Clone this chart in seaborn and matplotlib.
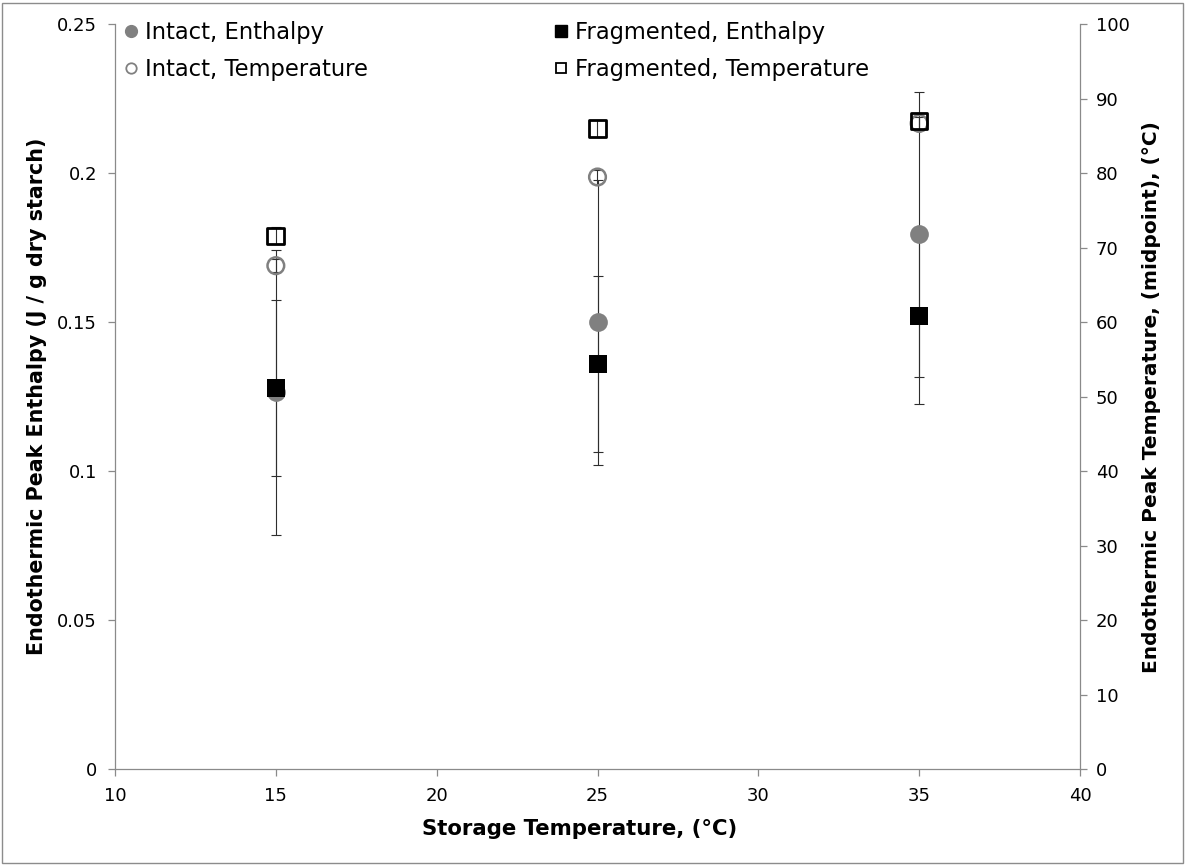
import matplotlib
matplotlib.use("Agg")
import matplotlib.pyplot as plt
from matplotlib.lines import Line2D
from matplotlib.patches import Rectangle
import numpy as np
import pandas as pd
import seaborn as sns

# Storage temperatures (°C)
storage_temp = [15, 25, 35]

# Endothermic peak enthalpy (J / g dry starch) and its error
intact_enthalpy = [0.1265, 0.150, 0.1795]
intact_enthalpy_err = [0.0478, 0.0478, 0.0478]
fragmented_enthalpy = [0.128, 0.136, 0.152]
fragmented_enthalpy_err = [0.0295, 0.0295, 0.0295]

# Endothermic peak temperature, midpoint (°C) and its error
intact_temperature = [67.6, 79.5, 86.7]
intact_temperature_err = [0.9, 0.9, 0.9]
fragmented_temperature = [71.6, 86.0, 87.0]
fragmented_temperature_err = [1.15, 1.15, 1.15]

series_labels = ["Intact, Enthalpy", "Intact, Temperature",
                 "Fragmented, Enthalpy", "Fragmented, Temperature"]
x_ticks = [10, 15, 20, 25, 30, 35, 40]
left_ticks = [0, 0.05, 0.1, 0.15, 0.2, 0.25]
left_tick_labels = ["0", "0.05", "0.1", "0.15", "0.2", "0.25"]
right_ticks = list(range(0, 101, 10))

sns.set_theme(style="white")
plt.rcParams["font.family"] = ["DejaVu Sans"]
plt.rcParams["text.color"] = "black"
plt.rcParams["axes.labelcolor"] = "black"

W, H = 1186, 865
fig = plt.figure(figsize=(W / 100, H / 100), dpi=100)
fig.patch.set_facecolor("white")

left_px, right_px, top_px, bottom_px = 115, 1080, 24.3, 769.3
ax = fig.add_axes([left_px / W, 1 - bottom_px / H,
                   (right_px - left_px) / W, (bottom_px - top_px) / H])
ax2 = ax.twinx()

GRAY = "#808080"
AXIS_GRAY = "#8a8a8a"
ERR_COLOR = "#2e2e2e"
MS = 13.5  # marker size in points

enthalpy = pd.DataFrame({
    "storage": storage_temp * 2,
    "value": intact_enthalpy + fragmented_enthalpy,
    "err": intact_enthalpy_err + fragmented_enthalpy_err,
    "series": ["Intact"] * 3 + ["Fragmented"] * 3,
})
temperature = pd.DataFrame({
    "storage": storage_temp * 2,
    "value": intact_temperature + fragmented_temperature,
    "err": intact_temperature_err + fragmented_temperature_err,
    "series": ["Intact"] * 3 + ["Fragmented"] * 3,
})

err_kw = dict(fmt="none", ecolor=ERR_COLOR, elinewidth=0.8, capsize=3.3,
              capthick=0.8, zorder=2)

# Error bars
for df, axis in ((enthalpy, ax), (temperature, ax2)):
    for name in ["Intact", "Fragmented"]:
        d = df[df["series"] == name]
        axis.errorbar(d["storage"], d["value"], yerr=d["err"], **err_kw)

# Enthalpy markers (left axis)
sns.scatterplot(data=enthalpy[enthalpy["series"] == "Intact"], x="storage",
                y="value", marker="o", s=MS ** 2, color=GRAY, edgecolor=GRAY,
                linewidth=0, legend=False, ax=ax, zorder=3)
sns.scatterplot(data=enthalpy[enthalpy["series"] == "Fragmented"], x="storage",
                y="value", marker="s", s=MS ** 2, color="black",
                edgecolor="black", linewidth=0, legend=False, ax=ax, zorder=4)

# Temperature markers (right axis)
sns.scatterplot(data=temperature[temperature["series"] == "Intact"], x="storage",
                y="value", marker="o", s=(MS - 1.5) ** 2, facecolor="none",
                edgecolor=GRAY, linewidth=1.8, legend=False, ax=ax2, zorder=3)
sns.scatterplot(data=temperature[temperature["series"] == "Fragmented"],
                x="storage", y="value", marker="s", s=(MS - 1.5) ** 2,
                facecolor="none", edgecolor="black", linewidth=2.0,
                legend=False, ax=ax2, zorder=4)

# Axes ranges and ticks
ax.set_xlim(10, 40)
ax.set_ylim(0, 0.25)
ax2.set_ylim(0, 100)
ax.set_xticks(x_ticks)
ax.set_xticklabels([str(t) for t in x_ticks])
ax.set_yticks(left_ticks)
ax.set_yticklabels(left_tick_labels)
ax2.set_yticks(right_ticks)
ax2.set_yticklabels([str(t) for t in right_ticks])

for a in (ax, ax2):
    a.grid(False)
    a.set_facecolor("none")
    a.spines["top"].set_visible(False)
    for side in ("left", "right", "bottom"):
        a.spines[side].set_color(AXIS_GRAY)
        a.spines[side].set_linewidth(0.9)
ax.spines["right"].set_visible(False)
ax2.spines["left"].set_visible(False)
ax2.spines["bottom"].set_visible(False)

ax.tick_params(axis="x", direction="out", length=5, width=0.9,
               color=AXIS_GRAY, labelsize=13, labelcolor="black", pad=8,
               bottom=True)
ax.tick_params(axis="y", direction="out", length=5, width=0.9,
               color=AXIS_GRAY, labelsize=13, labelcolor="black", pad=8,
               left=True)
ax2.tick_params(axis="y", direction="out", length=5, width=0.9,
                color=AXIS_GRAY, labelsize=13, labelcolor="black", pad=6.5,
                right=True)

# Axis titles
ax.set_xlabel("Storage Temperature, (°C)", fontsize=15.3, fontweight="bold",
              color="black")
ax.set_ylabel("Endothermic Peak Enthalpy (J / g dry starch)", fontsize=14.9,
              fontweight="bold", color="black")
ax2.set_ylabel("Endothermic Peak Temperature, (midpoint), (°C)", fontsize=14.5,
               fontweight="bold", color="black", rotation=90)
ax.xaxis.set_label_coords(0.481, -0.080)
ax.xaxis.label.set_va("center")
ax.yaxis.set_label_coords(-0.0808, 0.5)
ax.yaxis.label.set_va("center")
ax2.yaxis.set_label_coords(1.0746, 0.5)
ax2.yaxis.label.set_va("center")

# Legend in two columns along the top of the plot area
handles = [
    Line2D([], [], linestyle="none", marker="o", markersize=8.5,
           markerfacecolor=GRAY, markeredgecolor=GRAY),
    Line2D([], [], linestyle="none", marker="o", markersize=7.5,
           markerfacecolor="none", markeredgecolor=GRAY, markeredgewidth=1.3),
    Line2D([], [], linestyle="none", marker="s", markersize=8.5,
           markerfacecolor="black", markeredgecolor="black"),
    Line2D([], [], linestyle="none", marker="s", markersize=7.5,
           markerfacecolor="none", markeredgecolor="black", markeredgewidth=1.3),
]
leg_kw = dict(frameon=False, fontsize=16.3, handlelength=0.7,
              handletextpad=0.25, borderpad=0, borderaxespad=0,
              labelspacing=0.6, loc="upper left",
              bbox_transform=fig.transFigure)
leg1 = ax2.legend(handles[:2], series_labels[:2],
                  bbox_to_anchor=(123 / W, 1 - 21 / H), **leg_kw)
ax2.add_artist(leg1)
ax2.legend(handles[2:], series_labels[2:],
           bbox_to_anchor=(553 / W, 1 - 21 / H), **leg_kw)

# Chart border
fig.patches.append(Rectangle((2 / W, 2 / H), (W - 5) / W, (H - 5) / H,
                             transform=fig.transFigure, fill=False,
                             edgecolor="#8c8c8c", linewidth=1.0))

fig.savefig("out.png", dpi=100)
